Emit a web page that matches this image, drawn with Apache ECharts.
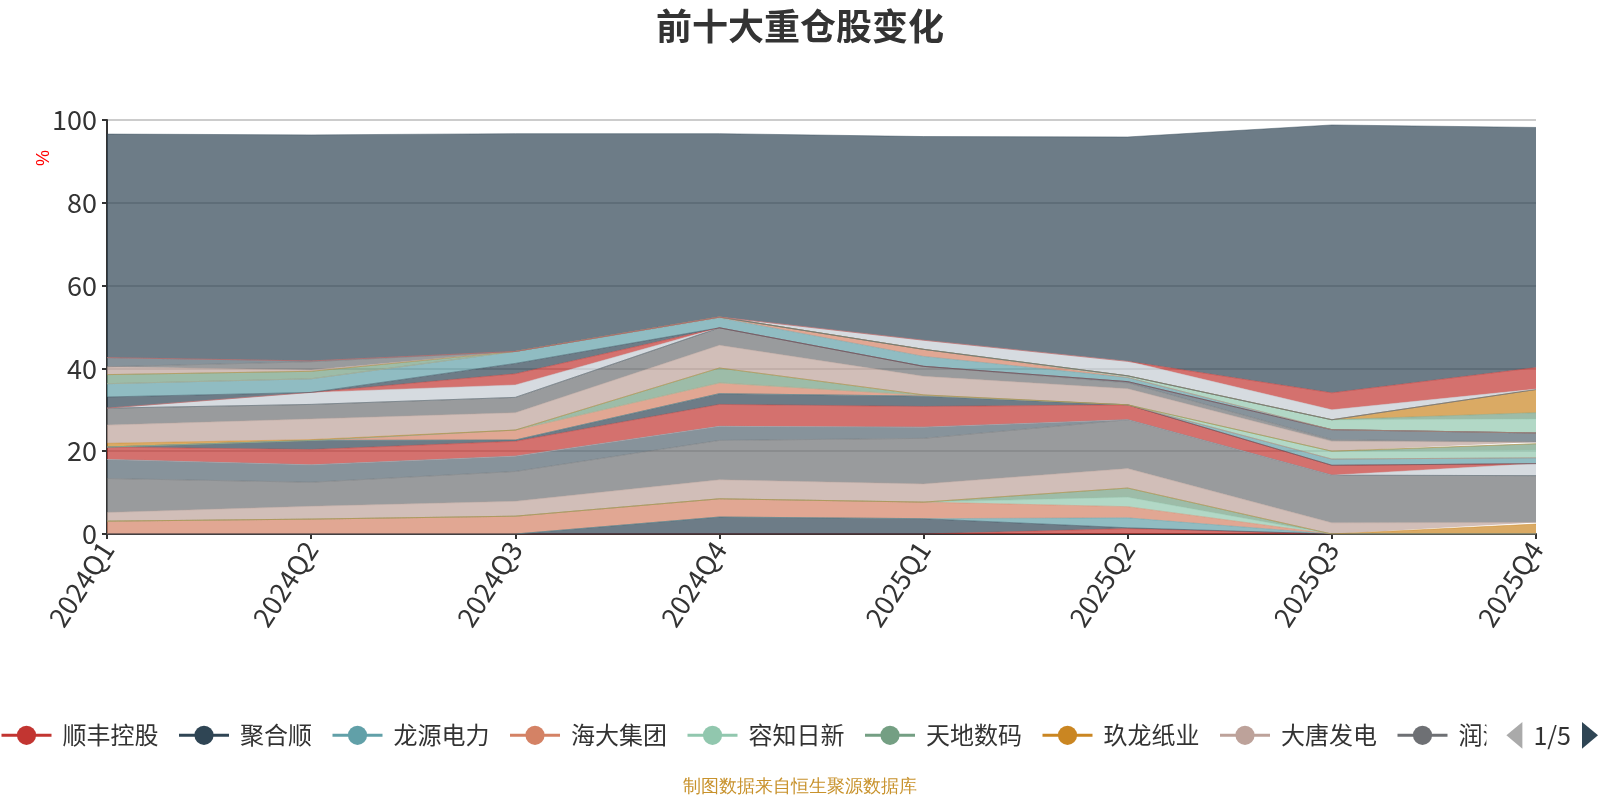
<!DOCTYPE html>
<html>
<head>
<meta charset="utf-8">
<title>前十大重仓股变化</title>
<script src="https://cdn.jsdelivr.net/npm/echarts/dist/echarts.min.js"></script>
<style>
  html, body { margin: 0; padding: 0; background: #fff; }
  #chart { width: 1600px; height: 800px; }
</style>
</head>
<body>
<div id="chart"></div>
<script>
// 报告期
var quarters = ['2024Q1', '2024Q2', '2024Q3', '2024Q4', '2025Q1', '2025Q2', '2025Q3', '2025Q4'];

// 各股票占净值比例(%)，按堆叠顺序从下到上
var shunfeng = [0, 0, 0, 0, 0, 1.3, 0, 0];
var juheshun = [0, 0, 0, 4.1, 3.7, 0.2, 0, 0];
var longyuan = [0, 0, 0, 0, 0, 2.4, 0, 0];
var haida = [3.1, 3.6, 4.3, 4.4, 4.0, 2.7, 0, 0];
var rongzhi = [0, 0, 0, 0, 0, 2.3, 0, 0];
var tiandi = [0, 0, 0, 0, 0, 2.2, 0, 0];
var jiulong = [0, 0, 0, 0, 0, 0, 0, 2.4];
var datang = [2.1, 3.1, 3.6, 4.6, 4.4, 4.7, 2.7, 0.4];
var runze = [8.2, 5.8, 7.2, 9.5, 11.0, 11.8, 11.5, 11.3];
// 以下股票名称在图例其他页，未能看到
var h09 = [4.6, 4.2, 3.7, 3.4, 2.7, 0, 0, 0];
var h10 = [0, 0, 0, 0, 0, 0, 0, 2.9];
var h11 = [3.0, 3.7, 3.6, 5.3, 5.0, 3.6, 2.4, 0];
var h12 = [0, 2.2, 0.3, 2.6, 2.5, 0, 0, 0];
var h13 = [0, 0, 0, 0, 0, 0, 1.5, 1.4];
var h14 = [0, 0, 2.4, 2.6, 0.2, 0, 0, 0];
var h15 = [0, 0, 0, 0, 0, 0, 1.9, 1.9];
var h16 = [0, 0, 0, 3.6, 0.1, 0, 0, 1.5];
var h17 = [0.9, 0.2, 0, 0, 0, 0, 0, 0];
var h18 = [4.4, 5.0, 4.2, 5.5, 4.5, 3.9, 2.4, 0.4];
var h19 = [4.1, 3.5, 3.7, 4.2, 2.4, 1.4, 0.4, 0];
var h20 = [0, 0, 0, 0, 0, 0.3, 2.4, 2.2];
var h21 = [0, 2.9, 3.0, 0, 0, 0, 0, 0];
var h22 = [0, 0, 2.7, 0, 0, 0, 0, 0];
var h23 = [2.7, 0, 2.5, 0, 0, 0, 0, 0];
var h24 = [3.2, 3.3, 2.9, 2.4, 2.4, 1.0, 0, 0];
var h25 = [0, 0, 0, 0.2, 1.7, 0, 0, 0];
var h26 = [0, 0, 0, 0, 0, 0.4, 2.4, 3.4];
var h27 = [2.2, 1.8, 0, 0, 0, 0, 0, 1.5];
var h28 = [0, 0, 0, 0, 0, 0, 0, 5.6];
var h29 = [1.9, 0.3, 0, 0, 0, 0, 0, 0];
var h30 = [0, 2.0, 0, 0, 0, 0, 0, 0];
var h31 = [2.2, 0.2, 0, 0, 0, 0, 0, 0];
var h32 = [0, 0, 0, 0, 2.2, 3.5, 2.4, 0.1];
var h33 = [0, 0, 0, 0, 0, 0, 4.1, 5.2];
var other = [54.0, 54.6, 52.6, 44.3, 49.2, 54.2, 64.7, 58.0];

var stockNames = ['顺丰控股', '聚合顺', '龙源电力', '海大集团', '容知日新', '天地数码', '玖龙纸业', '大唐发电', '润泽科技'];
var stockValues = [shunfeng, juheshun, longyuan, haida, rongzhi, tiandi, jiulong, datang, runze,
    h09, h10, h11, h12, h13, h14, h15, h16, h17, h18, h19, h20, h21,
    h22, h23, h24, h25, h26, h27, h28, h29, h30, h31, h32, h33, other];

var palette = ['#c23531', '#2f4554', '#61a0a8', '#d48265', '#91c7ae', '#749f83', '#ca8622', '#bda29a', '#6e7074', '#546570', '#c4ccd3'];

window.addEventListener('load', initChart);

function initChart() {
    var chart = echarts.init(document.getElementById('chart'));

    var series = [];
    for (var i = 0; i < stockValues.length; i++) {
        var name = stockNames[i];
        if (!name) {
            name = (i === stockValues.length - 1) ? '其他' : '重仓股票' + i;
        }
        series.push({
            name: name,
            type: 'line',
            stack: '总量',
            symbol: 'circle',
            symbolSize: 8,
            showSymbol: false,
            lineStyle: { width: 1, opacity: 0.45 },
            areaStyle: { opacity: 0.7 },
            emphasis: { disabled: true },
            data: stockValues[i]
        });
    }

    var option = {
        color: palette,
        animation: false,
        textStyle: { fontFamily: 'Noto Sans CJK SC' },
        title: {
            text: '前十大重仓股变化',
            left: 'center',
            top: 3,
            textStyle: { fontSize: 36, fontWeight: 'bold', color: '#333' }
        },
        graphic: [{
            type: 'text',
            left: 35,
            top: 150,
            rotation: Math.PI / 2,
            style: { text: '%', fill: '#ff0000', fontSize: 18 }
        }, {
            type: 'text',
            left: 'center',
            top: 778,
            style: { text: '制图数据来自恒生聚源数据库', fill: '#c8922c', fontSize: 18 }
        }],
        legend: {
            type: 'scroll',
            orient: 'horizontal',
            left: 0,
            right: 0,
            top: 717,
            padding: [5, 2, 5, 0],
            itemWidth: 50,
            itemHeight: 24,
            itemGap: 19,
            lineStyle: { width: 3, opacity: 1 },
            textStyle: { fontSize: 24, color: '#333', padding: [0, 0, 0, 6] },
            pageIconColor: '#2f4554',
            pageIconInactiveColor: '#aaa',
            pageIconSize: [16, 30],
            pageButtonItemGap: 0,
            pageButtonGap: 20,
            pageTextStyle: { fontSize: 25, color: '#333' },
            data: series.map(function (s) { return s.name; })
        },
        grid: {
            left: 107,
            right: 64,
            top: 120,
            bottom: 266
        },
        xAxis: {
            type: 'category',
            boundaryGap: false,
            data: quarters,
            axisLine: { show: true, lineStyle: { color: '#333', width: 2 } },
            axisTick: { show: true, lineStyle: { color: '#333', width: 2 } },
            axisLabel: { rotate: 57, fontSize: 27, color: '#333', margin: 10 },
            splitLine: { show: false }
        },
        yAxis: {
            type: 'value',
            min: 0,
            max: 100,
            interval: 20,
            axisLine: { show: true, lineStyle: { color: '#333', width: 2 } },
            axisTick: { show: true, lineStyle: { color: '#333', width: 2 } },
            axisLabel: { fontSize: 27, color: '#333', margin: 10 },
            splitLine: { show: true, lineStyle: { color: '#ccc', width: 2 } }
        },
        series: series
    };

    chart.setOption(option);
}
</script>
</body>
</html>
